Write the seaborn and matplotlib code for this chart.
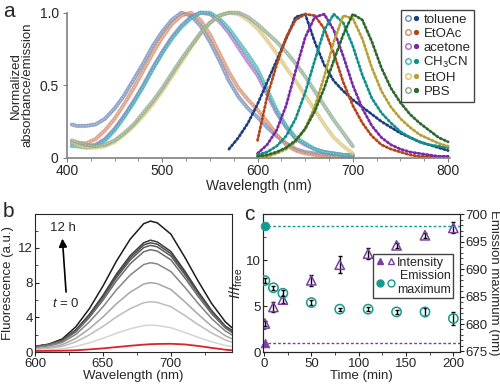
import numpy as np
import matplotlib
matplotlib.use('Agg')
import matplotlib.pyplot as plt
from matplotlib.lines import Line2D
from matplotlib.legend_handler import HandlerTuple
from matplotlib.ticker import MultipleLocator
import seaborn as sns

sns.set_style('ticks')
plt.rcParams['font.family'] = ['Liberation Sans', 'DejaVu Sans']
plt.rcParams['mathtext.fontset'] = 'custom'
plt.rcParams['mathtext.rm'] = 'Liberation Sans'
plt.rcParams['mathtext.it'] = 'Liberation Sans:italic'
plt.rcParams['font.size'] = 10

nan = np.nan

# ---- panel a: normalized absorbance / emission ----
solvents = ['toluene', 'EtOAc', 'acetone', 'CH$_3$CN', 'EtOH', 'PBS']
abs_colors = ['#6d88b8', '#d48a68', '#a46cc4', '#3cb2b4', '#dcc274', '#8aa88e']
em_colors = ['#1c3d80', '#b4461c', '#7a2aa8', '#12908c', '#b8a034', '#2e6a2e']

abs_wl = [405, 410, 420, 430, 440, 450, 460, 470, 480, 490, 500, 510, 520,
          530, 540, 550, 560, 570, 580, 590, 600, 610, 620, 630, 640, 650,
          660, 670, 680, 690, 700]
abs_toluene = [.23, .22, .22, .23, .27, .34, .43, .54, .65, .77, .87, .95, 1.0,
               .98, .91, .80, .67, .53, .42, .34, .28, .21, .15, .10, .06, .04,
               .03, .02, .02, .01, .01]
abs_etoac = [.11, .10, .10, .13, .19, .27, .37, .48, .60, .72, .83, .92, .98,
             1.0, .95, .85, .72, .59, .48, .40, .33, .25, .16, .09, .05, .03,
             .02, .01, .01, .01, .01]
abs_acetone = [.10, .09, .08, .09, .13, .20, .29, .39, .50, .62, .73, .83, .91,
               .97, 1.0, .99, .94, .86, .76, .66, .57, .44, .31, .21, .13, .09,
               .06, .04, .03, .02, .02]
abs_ch3cn = [.08, .08, .07, .08, .12, .19, .28, .38, .49, .61, .72, .82, .90,
             .96, 1.0, 1.0, .96, .89, .80, .71, .61, .47, .33, .22, .14, .10,
             .06, .04, .03, .02, .02]
abs_etoh = [.11, .09, .07, .07, .08, .11, .16, .22, .29, .37, .46, .56, .66,
            .76, .85, .93, .98, 1.0, .99, .95, .89, .81, .72, .62, .53, .43,
            .33, .23, .14, .08, .03]
abs_pbs = [.12, .11, .09, .08, .09, .12, .17, .23, .31, .39, .48, .58, .68,
           .77, .86, .93, .98, 1.0, 1.0, .97, .92, .86, .80, .73, .65, .56,
           .46, .36, .26, .17, .08]

em_wl = [570, 580, 590, 600, 610, 620, 630, 640, 650, 660, 670, 680, 690, 700,
         710, 720, 730, 740, 750, 760, 770, 780, 790, 800]
em_toluene = [.06, .14, .24, .37, .52, .67, .82, .97, .99, .80, .64, .53, .46,
              .40, .35, .30, .25, .21, .17, .14, .11, .09, .07, .05]
em_etoac = [nan, nan, nan, .12, .42, .64, .83, .95, .99, .98, .89, .72, .52,
            .36, .24, .15, .09, .06, .04, .02, .01, .01, .01, .01]
em_acetone = [nan, nan, nan, .03, .09, .19, .36, .60, .83, .97, .99, .88, .70,
              .50, .34, .22, .14, .09, .06, .04, .03, .02, .01, .01]
em_ch3cn = [nan, nan, nan, .02, .04, .08, .15, .27, .45, .67, .88, .99, .93,
            .77, .57, .41, .31, .24, .18, .14, .11, .09, .08, .07]
em_etoh = [nan, nan, nan, .01, .01, .03, .06, .11, .20, .35, .56, .80, .98,
           .96, .82, .62, .46, .35, .27, .21, .16, .13, .10, .08]
em_pbs = [nan, nan, nan, .01, .02, .04, .07, .12, .20, .32, .48, .67, .85,
          .99, .95, .80, .62, .48, .38, .30, .24, .19, .14, .11]

abs_all = [abs_toluene, abs_etoac, abs_acetone, abs_ch3cn, abs_etoh, abs_pbs]
em_all = [em_toluene, em_etoac, em_acetone, em_ch3cn, em_etoh, em_pbs]

# ---- panel b: fluorescence over time ----
fl_wl = [600, 610, 620, 630, 640, 650, 660, 670, 680, 685, 690, 700, 710, 720,
         730, 740, 745]
fl_all = [
    [.65, .90, 1.5, 2.9, 5.0, 7.6, 10.5, 13.0, 14.8, 15.1, 14.9, 13.6, 11.0, 8.2, 5.6, 3.5, 2.8],
    [.62, .87, 1.37, 2.55, 4.34, 6.53, 9.0, 11.1, 12.6, 12.9, 12.7, 11.6, 9.4, 7.0, 4.8, 3.0, 2.5],
    [.62, .86, 1.35, 2.5, 4.25, 6.38, 8.79, 10.86, 12.35, 12.6, 12.43, 11.35, 9.2, 6.88, 4.72, 2.98, 2.41],
    [.62, .85, 1.33, 2.45, 4.16, 6.23, 8.58, 10.6, 12.05, 12.3, 12.13, 11.08, 8.98, 6.72, 4.62, 2.92, 2.36],
    [.56, .79, 1.24, 2.32, 3.97, 5.97, 8.22, 10.17, 11.56, 11.8, 11.64, 10.63, 8.61, 6.43, 4.41, 2.78, 2.24],
    [.50, .70, 1.09, 2.03, 3.47, 5.21, 7.18, 8.87, 10.09, 10.3, 10.16, 9.28, 7.52, 5.62, 3.86, 2.43, 1.96],
    [.38, .53, .84, 1.57, 2.69, 4.04, 5.57, 6.89, 7.84, 8.0, 7.89, 7.21, 5.84, 4.36, 2.99, 1.88, 1.52],
    [.31, .42, .64, 1.17, 1.97, 2.95, 4.05, 5.0, 5.68, 5.8, 5.72, 5.23, 4.24, 3.17, 2.19, 1.39, 1.13],
    [.18, .24, .36, .64, 1.06, 1.58, 2.17, 2.68, 3.04, 3.1, 3.06, 2.8, 2.27, 1.7, 1.18, .75, .62],
]
fl_grays = ['#1c1c1c', '#3c3c3c', '#4c4c4c', '#5a5a5a', '#6c6c6c',
            '#858585', '#a6a6a6', '#bcbcbc', '#d4d4d4']
fl_free = [.12, .13, .15, .20, .30, .42, .57, .72, .85, .90, .93, .95, .88,
           .70, .48, .27, .20]

# ---- panel c: intensity and emission maximum vs time ----
t_obs = [1, 10, 20, 50, 80, 110, 140, 170, 200]
intensity = [3.1, 4.9, 5.7, 7.8, 9.5, 10.7, 11.6, 12.7, 13.5]
intensity_err = [0.3, 0.5, 0.4, 0.6, 0.9, 0.6, 0.3, 0.3, 0.6]
em_max = [687.9, 686.6, 685.6, 683.9, 682.7, 682.7, 682.2, 682.2, 681.0]
em_max_err = [0.4, 0.4, 0.5, 0.4, 0.3, 0.4, 0.4, 0.7, 1.1]
t_free = [1]
intensity_free = [1.0]
em_max_free = [697.8]

purple = '#7b3fa2'
teal = '#179a8e'
FS = 9.5

fig = plt.figure(figsize=(5, 3.84), dpi=100)


def style_ticks(a, ydir='out'):
    a.tick_params(which='both', labelsize=FS, pad=1.5)
    a.tick_params(which='major', length=3)
    a.tick_params(which='minor', length=1.8)
    a.tick_params(axis='y', which='both', direction=ydir)


# ===== a =====
ax = fig.add_axes([0.134, 0.589, 0.766, 0.378])
for vals, c in zip(abs_all, abs_colors):
    sns.lineplot(x=abs_wl, y=vals, ax=ax, color=c, lw=2.8, alpha=0.75,
                 clip_on=False)
    sns.lineplot(x=abs_wl, y=vals, ax=ax, color='white', lw=0.8, alpha=0.45,
                 linestyle=(0, (1, 1.5)), clip_on=False)
for vals, c in zip(em_all, em_colors):
    sns.lineplot(x=em_wl, y=vals, ax=ax, color=c, lw=2.0,
                 linestyle=(0, (0.6, 0.9)), dash_capstyle='round',
                 clip_on=False)
ax.set_xlim(400, 802)
ax.set_ylim(0, 1.0)
ax.set_xticks([400, 500, 600, 700, 800])
ax.xaxis.set_minor_locator(MultipleLocator(25))
ax.set_yticks([0, 0.5, 1.0])
ax.set_yticklabels(['0', '0.5', '1.0'])
sns.despine(ax=ax)
for s in ['left', 'bottom']:
    ax.spines[s].set_color('#808080')
    ax.spines[s].set_linewidth(1.2)
style_ticks(ax)
ax.tick_params(which='both', color='#808080', labelsize=10)
ax.tick_params(axis='y', pad=3)
ax.set_xlabel('Wavelength (nm)', fontsize=10, labelpad=1)
ax.set_ylabel('Normalized\nabsorbance/emission', fontsize=FS, labelpad=4,
              linespacing=1.05)

handles = []
for ca, ce in zip(abs_colors, em_colors):
    h1 = Line2D([], [], marker='o', ls='none', mfc='none', mec=ca, ms=4, mew=1)
    h2 = Line2D([], [], marker='o', ls='none', color=ce, ms=2.8)
    handles.append((h1, h2))
fig.legend(handles, solvents, loc='upper right', bbox_to_anchor=(0.962, 0.992),
           handler_map={tuple: HandlerTuple(ndivide=None, pad=0.1)},
           fontsize=FS, handlelength=1.1, handletextpad=0.3,
           labelspacing=0.12, borderpad=0.3, fancybox=False,
           edgecolor='#444444', framealpha=1)

# ===== b =====
axb = fig.add_axes([0.070, 0.0833, 0.394, 0.359])
for vals, c in zip(fl_all, fl_grays):
    sns.lineplot(x=fl_wl, y=vals, ax=axb, color=c, lw=1.1)
sns.lineplot(x=fl_wl, y=fl_free, ax=axb, color='#e0202a', lw=1.3)
axb.set_xlim(600, 745)
axb.set_ylim(0, 15.9)
axb.set_xticks([600, 650, 700])
axb.xaxis.set_minor_locator(MultipleLocator(25))
axb.set_yticks([0, 4, 8, 12])
axb.yaxis.set_minor_locator(MultipleLocator(2))
style_ticks(axb, ydir='in')
axb.set_xlabel('Wavelength (nm)', fontsize=FS, labelpad=0)
axb.set_ylabel('Fluorescence (a.u.)', fontsize=FS, labelpad=3)
axb.annotate('', xy=(620, 13.4), xytext=(623, 6.6),
             arrowprops=dict(arrowstyle='-|>', color='black', lw=1.2,
                             mutation_scale=12))
axb.text(620.5, 14.3, '12 h', ha='center', va='center', fontsize=FS)
axb.text(623, 5.6, '$t$ = 0', ha='center', va='center', fontsize=FS)

# ===== c =====
axc = fig.add_axes([0.526, 0.0833, 0.394, 0.359])
axr = axc.twinx()
axc.axhline(intensity_free[0], color=purple, lw=1, ls=(0, (2, 1.5)))
axr.axhline(em_max_free[0], color=teal, lw=1, ls=(0, (2, 1.5)))
axc.errorbar(t_obs, intensity, yerr=intensity_err, fmt='none', ecolor='black',
             elinewidth=1, capsize=1.5, capthick=1, zorder=2)
sns.scatterplot(x=t_obs, y=intensity, ax=axc, marker='^', s=45,
                facecolor='none', edgecolor=purple, linewidth=1.1, zorder=3)
sns.scatterplot(x=t_free, y=intensity_free, ax=axc, marker='^', s=40,
                color=purple, edgecolor=purple, zorder=3, clip_on=False)
axr.errorbar(t_obs, em_max, yerr=em_max_err, fmt='none', ecolor='black',
             elinewidth=1, capsize=1.5, capthick=1, zorder=2)
sns.scatterplot(x=t_obs, y=em_max, ax=axr, marker='o', s=45,
                facecolor='none', edgecolor=teal, linewidth=1.1, zorder=3)
sns.scatterplot(x=t_free, y=em_max_free, ax=axr, marker='o', s=40,
                color=teal, edgecolor=teal, zorder=3, clip_on=False)
axc.set_xlim(-1, 207)
axc.set_ylim(0, 15)
axr.set_ylim(674.9, 700)
axc.set_xticks([0, 50, 100, 150, 200])
axc.xaxis.set_minor_locator(MultipleLocator(25))
axc.set_yticks([0, 5, 10])
axc.yaxis.set_minor_locator(MultipleLocator(2.5))
axr.set_yticks([675, 680, 685, 690, 695, 700])
axr.yaxis.set_minor_locator(MultipleLocator(1))
style_ticks(axc, ydir='in')
style_ticks(axr)
axr.tick_params(axis='y', pad=1)
axc.set_xlabel('Time (min)', fontsize=FS, labelpad=0)
axc.set_ylabel('$I$/$I_{\\rm free}$', fontsize=10.5, labelpad=1)
axr.set_ylabel('Emission maximum (nm)', fontsize=9.5, rotation=270,
               labelpad=9)

hi = (Line2D([], [], marker='^', ls='none', color=purple, ms=5),
      Line2D([], [], marker='^', ls='none', mfc='none', mec=purple, ms=5))
he = (Line2D([], [], marker='o', ls='none', color=teal, ms=5),
      Line2D([], [], marker='o', ls='none', mfc='none', mec=teal, ms=5))
leg = axr.legend([hi, he], ['Intensity', 'Emission\nmaximum'],
                 loc='upper right', bbox_to_anchor=(0.966, 0.71),
                 handler_map={tuple: HandlerTuple(ndivide=None, pad=0.3)},
                 fontsize=9, handlelength=1.5, handletextpad=0.2,
                 labelspacing=0.1, borderpad=0.2, borderaxespad=0,
                 fancybox=False, edgecolor='#444444', framealpha=1)
leg.get_texts()[1].set_multialignment('right')

fig.text(0.006, 0.995, 'a', fontsize=15, va='top')
fig.text(0.006, 0.475, 'b', fontsize=15, va='top')
fig.text(0.488, 0.465, 'c', fontsize=15, va='top')

fig.savefig('out.png', dpi=100)
